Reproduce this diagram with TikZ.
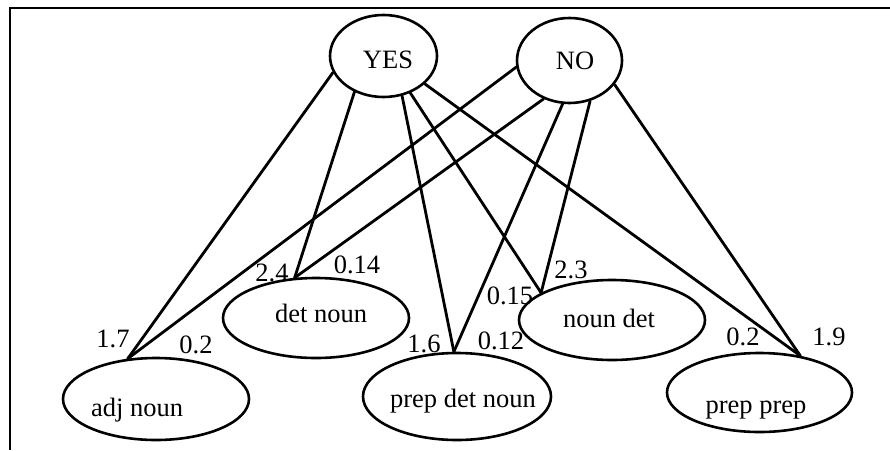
\documentclass[tikz,border=0pt]{standalone}
\usepackage{fontspec}
\setmainfont{Liberation Serif}
\usetikzlibrary{shapes.geometric}
\begin{document}
\begin{tikzpicture}[x=1pt,y=-1pt,
  ell/.style={ellipse, draw, line width=2.6pt, inner sep=0pt},
  lbl/.style={font=\fontsize{26.5}{30}\selectfont, inner sep=0pt, anchor=base},
  num/.style={font=\fontsize{26.5}{30}\selectfont, inner sep=0pt},
  conn/.style={line width=2.8pt, line cap=round}]
\useasboundingbox (0,0) rectangle (890,450);
\fill[white] (0,0) rectangle (890,450);
% frame
\coordinate (tl) at (10,8);
\coordinate (tr) at (890,8);
\coordinate (bl) at (10,450);
\draw[line width=2.5pt] (tr) -- (tl) -- (bl);
% top nodes
\node[ell, minimum width=107pt, minimum height=82pt] (yes) at (383.5,56) {};
\node[lbl] (yest) at (388,68) {YES};
\node[ell, minimum width=105pt, minimum height=85pt] (no) at (569.5,60.5) {};
\node[lbl] (not) at (575,69) {NO};
% bottom nodes
\node[ell, minimum width=186pt, minimum height=82pt] (adj) at (156,399) {};
\node[lbl] (adjt) at (137,416) {adj noun};
\node[ell, minimum width=186pt, minimum height=80pt] (det) at (316,318) {};
\node[lbl] (dett) at (321,322) {det noun};
\node[ell, minimum width=188pt, minimum height=87pt] (pdn) at (457,396.5) {};
\node[lbl] (pdnt) at (463,407) {prep det noun};
\node[ell, minimum width=186pt, minimum height=80pt] (nd) at (612,320) {};
\node[lbl] (ndt) at (609,327) {noun det};
\node[ell, minimum width=185pt, minimum height=79pt] (pp) at (759.5,392.5) {};
\node[lbl] (ppt) at (756,413) {prep prep};
% connectors from YES
\draw[conn] (yes.198) -- (adj.125);
\draw[conn] (yes.231) -- (det.118);
\draw[conn] (yes.295) -- (pdn.94);
\draw[conn] (yes.306) -- (nd.159);
\draw[conn] (yes.326) -- (pp.42);
% connectors from NO
\draw[conn] (no.187) -- (adj.125);
\draw[conn] (no.236) -- (det.118);
\draw[conn] (no.261) -- (pdn.94);
\draw[conn] (no.297) -- (nd.159);
\draw[conn] (no.332) -- (pp.42);
% weights
\node[num] (w1) at (113,339) {1.7};
\node[num] (w2) at (196,345) {0.2};
\node[num] (w3) at (272,273) {2.4};
\node[num] (w4) at (357,265) {0.14};
\node[num] (w5) at (424,344) {1.6};
\node[num] (w6) at (501,341) {0.12};
\node[num] (w7) at (510,296) {0.15};
\node[num] (w8) at (571,270) {2.3};
\node[num] (w9) at (743,337) {0.2};
\node[num] (w10) at (829,337) {1.9};
\end{tikzpicture}
\end{document}
